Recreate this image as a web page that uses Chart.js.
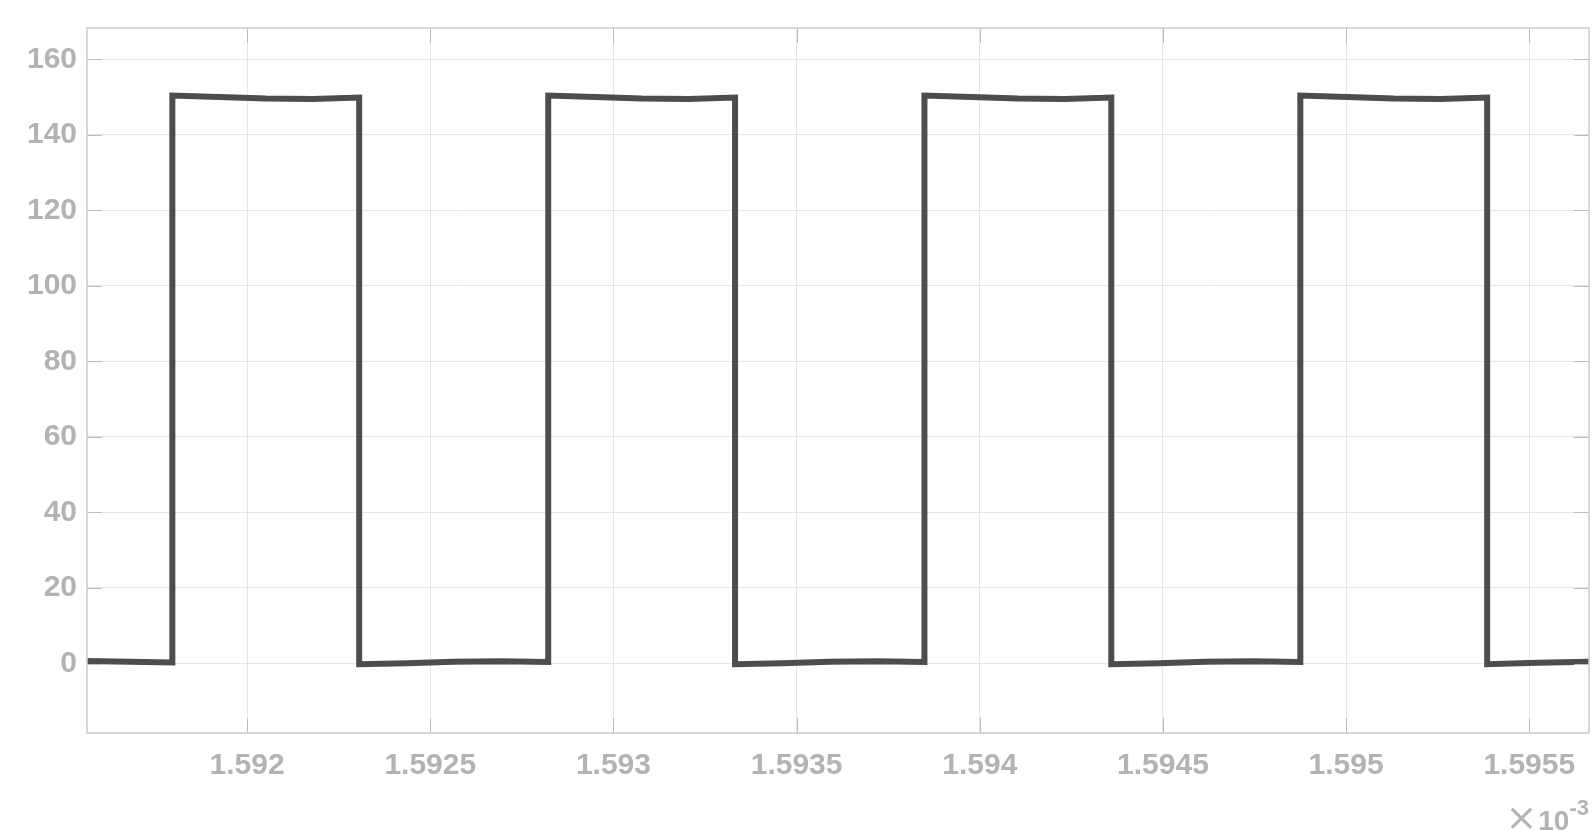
<!DOCTYPE html>
<html>
<head>
<meta charset="utf-8">
<script src="https://cdn.jsdelivr.net/npm/chart.js@4.4.1/dist/chart.umd.min.js"></script>
<style>
    html, body { margin: 0; padding: 0; background: #ffffff; overflow: hidden; }
    canvas { display: block; }
</style>
</head>
<body>
<canvas id="signal" width="1594" height="830"></canvas>
<script>
// time axis in units of 1e-3 s
const timeValues = [
    1.591563, 1.591680, 1.591796,
    1.591796, 1.591924, 1.592051, 1.592179, 1.592306,
    1.592306, 1.592435, 1.592564, 1.592693, 1.592822,
    1.592822, 1.592950, 1.593077, 1.593205, 1.593332,
    1.593332, 1.593461, 1.593590, 1.593720, 1.593849,
    1.593849, 1.593977, 1.594104, 1.594232, 1.594359,
    1.594359, 1.594488, 1.594617, 1.594746, 1.594875,
    1.594875, 1.595003, 1.595130, 1.595258, 1.595385,
    1.595385, 1.595524, 1.595663
];
const signalValues = [
    0.7, 0.5, 0.3,
    150.4, 150.0, 149.6, 149.5, 149.9,
    -0.2, 0.1, 0.5, 0.6, 0.4,
    150.4, 150.0, 149.6, 149.5, 149.9,
    -0.2, 0.1, 0.5, 0.6, 0.4,
    150.4, 150.0, 149.6, 149.5, 149.9,
    -0.2, 0.1, 0.5, 0.6, 0.4,
    150.4, 150.0, 149.6, 149.5, 149.9,
    -0.2, 0.2, 0.5
];

const xTickValues = [1.592, 1.5925, 1.593, 1.5935, 1.594, 1.5945, 1.595, 1.5955];
const xTickLabels = ['1.592', '1.5925', '1.593', '1.5935', '1.594', '1.5945', '1.595', '1.5955'];
const yTickValues = [0, 20, 40, 60, 80, 100, 120, 140, 160];
const yTickLabels = ['0', '20', '40', '60', '80', '100', '120', '140', '160'];

const xLimits = [1.591563, 1.595663];
const yLimits = [-18.4, 168.3];

const labelColor = '#b3b3b3';
const labelFont = '"Liberation Sans", Arial, sans-serif';

// box round the axes, inner tick marks and the x10^-3 exponent
const axesBox = {
    id: 'axesBox',
    afterDraw(chart) {
        const c = chart.ctx;
        const a = chart.chartArea;
        const xs = chart.scales.x;
        const ys = chart.scales.y;
        const tl = 15;
        c.save();
        c.strokeStyle = '#bdbdbd';
        c.lineWidth = 1;
        c.beginPath();
        xTickValues.forEach(v => {
            const px = Math.round(xs.getPixelForValue(v)) + 0.5;
            c.moveTo(px, a.bottom); c.lineTo(px, a.bottom - tl);
            c.moveTo(px, a.top); c.lineTo(px, a.top + tl);
        });
        yTickValues.forEach(v => {
            const py = Math.round(ys.getPixelForValue(v)) + 0.5;
            c.moveTo(a.left, py); c.lineTo(a.left + tl, py);
            c.moveTo(a.right, py); c.lineTo(a.right - tl, py);
        });
        c.stroke();
        c.strokeStyle = '#cccccc';
        c.lineWidth = 1.5;
        c.strokeRect(a.left, a.top, a.right - a.left, a.bottom - a.top);

        // exponent label under the last tick
        c.fillStyle = labelColor;
        c.textBaseline = 'alphabetic';
        c.textAlign = 'left';
        c.font = 'bold 22px ' + labelFont;
        const expW = c.measureText('-3').width;
        c.font = 'bold 28px ' + labelFont;
        const tenW = c.measureText('10').width;
        c.font = '38px "DejaVu Sans", sans-serif';
        const timesW = c.measureText('\u00d7').width;
        let x = a.right - expW - tenW - timesW - 1;
        c.fillText('\u00d7', x, 830);
        x += timesW + 1;
        c.font = 'bold 28px ' + labelFont;
        c.fillText('10', x, 830);
        x += tenW;
        c.font = 'bold 22px ' + labelFont;
        c.fillText('-3', x, 815);
        c.restore();
    }
};

const ctx = document.getElementById('signal').getContext('2d');
const points = timeValues.map((t, i) => ({ x: t, y: signalValues[i] }));

const myChart = new Chart(ctx, {
    type: 'line',
    data: {
        datasets: [{
            data: points,
            borderColor: '#4d4d4d',
            borderWidth: 6,
            borderJoinStyle: 'miter',
            borderCapStyle: 'butt',
            pointRadius: 0,
            tension: 0,
            fill: false,
        }]
    },
    options: {
        responsive: false,
        animation: false,
        devicePixelRatio: 1,
        layout: {
            padding: { top: 24, right: 5, left: 0, bottom: 0 }
        },
        plugins: {
            legend: { display: false },
            tooltip: { enabled: false },
        },
        scales: {
            x: {
                type: 'linear',
                min: xLimits[0],
                max: xLimits[1],
                afterBuildTicks: function (scale) {
                    scale.ticks = xTickValues.map(v => ({ value: v }));
                },
                afterFit: function (scale) {
                    scale.height = 97;
                },
                ticks: {
                    padding: 15,
                    maxRotation: 0,
                    autoSkip: false,
                    color: labelColor,
                    font: { family: labelFont, size: 30, weight: 'bold' },
                    callback: function (value) {
                        const i = xTickValues.indexOf(value);
                        return i >= 0 ? xTickLabels[i] : '';
                    }
                },
                grid: {
                    color: '#e6e6e6',
                    drawTicks: false,
                },
                border: { display: false },
            },
            y: {
                type: 'linear',
                min: yLimits[0],
                max: yLimits[1],
                afterBuildTicks: function (scale) {
                    scale.ticks = yTickValues.map(v => ({ value: v }));
                },
                afterFit: function (scale) {
                    scale.width = 87;
                },
                ticks: {
                    padding: 10,
                    color: labelColor,
                    font: { family: labelFont, size: 30, weight: 'bold' },
                    callback: function (value) {
                        const i = yTickValues.indexOf(value);
                        return i >= 0 ? yTickLabels[i] : '';
                    }
                },
                grid: {
                    color: '#e6e6e6',
                    drawTicks: false,
                },
                border: { display: false },
            }
        }
    },
    plugins: [axesBox]
});
</script>
</body>
</html>
